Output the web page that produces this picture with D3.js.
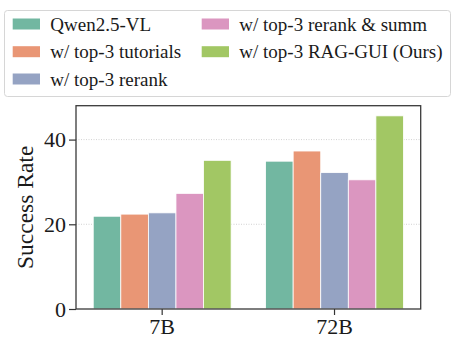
<!DOCTYPE html>
<html lang="en">
<head>
  <meta charset="UTF-8">
  <title>Success Rate by model size</title>
  <style>
    body { margin: 0; background: #fff; }
    text { font-family: "Liberation Serif", "Times New Roman", serif; fill: #1a1a1a; }
  </style>
  <script src="https://d3js.org/d3.v7.min.js"></script>
</head>
<body>
<div id="chart"></div>
<script>
  // Data
  var groups = ["7B", "72B"];
  var series = ["Qwen2.5-VL", "w/ top-3 tutorials", "w/ top-3 rerank", "w/ top-3 rerank & summ", "w/ top-3 RAG-GUI (Ours)"];
  var values7B = [21.9, 22.4, 22.7, 27.3, 35.1];
  var values72B = [34.9, 37.3, 32.2, 30.5, 45.6];
  var yTicks = [0, 20, 40];
  var colors = ["#72b7a1", "#e99675", "#95a3c3", "#db96c0", "#a2c764"];

  var width = 459, height = 344;
  var margin = { top: 105.7, right: 38.3, bottom: 35, left: 76 };

  var svg = d3.select("#chart").append("svg")
    .attr("width", width)
    .attr("height", height);

  var rows = groups.map((g, i) => ({ group: g, values: i === 0 ? values7B : values72B }));

  var x = d3.scaleBand()
    .domain(groups)
    .range([margin.left, width - margin.right])
    .paddingInner(0)
    .paddingOuter(0);

  var xInner = d3.scaleBand()
    .domain(series)
    .range([0, x.bandwidth() * 0.8]);

  var y = d3.scaleLinear()
    .domain([0, 48])
    .range([309, margin.top]);

  // Grid lines
  svg.append("g")
    .selectAll("line")
    .data(yTicks.filter(d => d > 0))
    .enter().append("line")
    .attr("x1", margin.left)
    .attr("x2", width - margin.right)
    .attr("y1", d => y(d))
    .attr("y2", d => y(d))
    .attr("stroke", "#c8c8c8")
    .attr("stroke-width", 0.8)
    .attr("stroke-dasharray", "1,1.5");

  // Bars
  var groupG = svg.append("g")
    .selectAll("g")
    .data(rows)
    .enter().append("g")
    .attr("transform", d => "translate(" + (x(d.group) + x.bandwidth() * 0.1) + ",0)");

  groupG.selectAll("rect")
    .data(d => d.values.map((v, i) => ({ name: series[i], value: v, i: i })))
    .enter().append("rect")
    .attr("x", d => xInner(d.name))
    .attr("width", xInner.bandwidth())
    .attr("y", d => y(d.value))
    .attr("height", d => y(0) - y(d.value))
    .attr("fill", d => colors[d.i])
    .attr("stroke", "#fff")
    .attr("stroke-width", 0.8);

  // Axes
  var yAxis = svg.append("g")
    .attr("transform", "translate(" + margin.left + ",0)")
    .call(d3.axisLeft(y).tickValues(yTicks).tickSize(7).tickPadding(3));
  yAxis.select(".domain").remove();
  yAxis.selectAll("line").attr("stroke", "#333").attr("stroke-width", 1.2);
  yAxis.selectAll("text").attr("font-size", 22).attr("fill", "#1a1a1a")
    .style("font-family", "'Liberation Serif', serif");

  var xAxis = svg.append("g")
    .attr("transform", "translate(0," + y(0) + ")")
    .call(d3.axisBottom(x).tickSize(6).tickPadding(3));
  xAxis.select(".domain").remove();
  xAxis.selectAll("line").attr("stroke", "#333").attr("stroke-width", 1.2);
  xAxis.selectAll("text").attr("font-size", 22).attr("fill", "#1a1a1a")
    .style("font-family", "'Liberation Serif', serif");

  // Frame
  svg.append("rect")
    .attr("x", margin.left)
    .attr("y", margin.top)
    .attr("width", width - margin.right - margin.left)
    .attr("height", y(0) - margin.top)
    .attr("fill", "none")
    .attr("stroke", "#3a3a3a")
    .attr("stroke-width", 1.3);

  // Y label
  svg.append("text")
    .attr("transform", "translate(25," + ((y(0) + margin.top) / 2) + ") rotate(-90)")
    .attr("text-anchor", "middle")
    .attr("dominant-baseline", "central")
    .attr("font-size", 23.5)
    .text("Success Rate");

  // Legend
  var legend = svg.append("g");
  legend.append("rect")
    .attr("x", 4.5).attr("y", 10.5)
    .attr("width", 446).attr("height", 86)
    .attr("rx", 3)
    .attr("fill", "#fff")
    .attr("stroke", "#d6d6d6");

  var legendPos = [
    [12.7, 24], [12.7, 51.7], [12.7, 79],
    [201.7, 24], [201.7, 51.7]
  ];
  var item = legend.selectAll("g.item")
    .data(series)
    .enter().append("g")
    .attr("class", "item")
    .attr("transform", (d, i) => "translate(" + legendPos[i][0] + "," + legendPos[i][1] + ")");
  item.append("rect")
    .attr("x", 0).attr("y", -5.5)
    .attr("width", 27.3).attr("height", 11)
    .attr("fill", (d, i) => colors[i]);
  item.append("text")
    .attr("x", 37.6)
    .attr("y", 0)
    .attr("dominant-baseline", "central")
    .attr("font-size", 19)
    .text(d => d);
</script>
</body>
</html>
